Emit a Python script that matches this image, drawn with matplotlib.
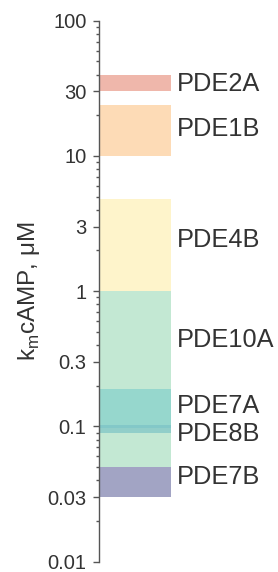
import matplotlib
matplotlib.use("Agg")
import matplotlib.pyplot as plt
from matplotlib.ticker import FixedLocator, NullFormatter

plt.rcParams['font.family'] = ['Liberation Sans', 'DejaVu Sans']

# Km ranges for cAMP (uM)
enzymes = ['PDE2A', 'PDE1B', 'PDE4B', 'PDE10A', 'PDE7A', 'PDE8B', 'PDE7B']
km_low = [30, 10, 1, 0.05, 0.098, 0.09, 0.03]
km_high = [40, 24, 4.8, 1, 0.19, 0.102, 0.05]
label_at = [34, 15.9, 2.38, 0.435, 0.142, 0.088, 0.0425]
colors = ['#efb7ab', '#fddbb6', '#fef4cb', '#c3e8d3', '#8fd5cc', '#7cc3c6', '#a2a4c4']
alphas = [1, 1, 1, 1, 0.85, 0.7, 1]

yticks = [0.01, 0.03, 0.1, 0.3, 1, 3, 10, 30, 100]
yticklabels = ['0.01', '0.03', '0.1', '0.3', '1', '3', '10', '30', '100']

text_col = '#333333'
spine_col = '#555555'

fig = plt.figure(figsize=(2.78, 5.72), dpi=100)
ax = fig.add_axes([99 / 278, 10.3 / 572, 72 / 278, 541 / 572])

for name, lo, hi, c, a, ly in zip(enzymes, km_low, km_high, colors, alphas, label_at):
    ax.bar(0, hi - lo, bottom=lo, width=1, align='edge', color=c, alpha=a,
           edgecolor='none', linewidth=0)
    ax.text(1.085, ly, name, transform=ax.get_yaxis_transform(), va='center',
            ha='left', fontsize=18.3, color=text_col, clip_on=False)

ax.set_yscale('log')
ax.set_ylim(0.01, 100)
ax.set_xlim(-0.01, 1)
ax.yaxis.set_major_locator(FixedLocator(yticks))
ax.set_yticklabels(yticklabels)
minors = [m * 10.0 ** e for e in range(-2, 2) for m in range(2, 10) if m != 3]
ax.yaxis.set_minor_locator(FixedLocator(minors))
ax.yaxis.set_minor_formatter(NullFormatter())

ax.tick_params(axis='y', which='major', length=4, width=1, color=spine_col,
               labelsize=14.5, labelcolor=text_col, pad=5)
ax.tick_params(axis='y', which='minor', length=2, width=1, color=spine_col)
ax.set_xticks([])
for s in ['top', 'right', 'bottom']:
    ax.spines[s].set_visible(False)
ax.spines['left'].set_color(spine_col)
ax.spines['left'].set_linewidth(1)
ax.patch.set_alpha(0)

ax.set_ylabel('k$_\\mathregular{m}$cAMP, \u03bcM', fontsize=17.5, color=text_col, labelpad=4)

fig.savefig('out.png', dpi=100)
